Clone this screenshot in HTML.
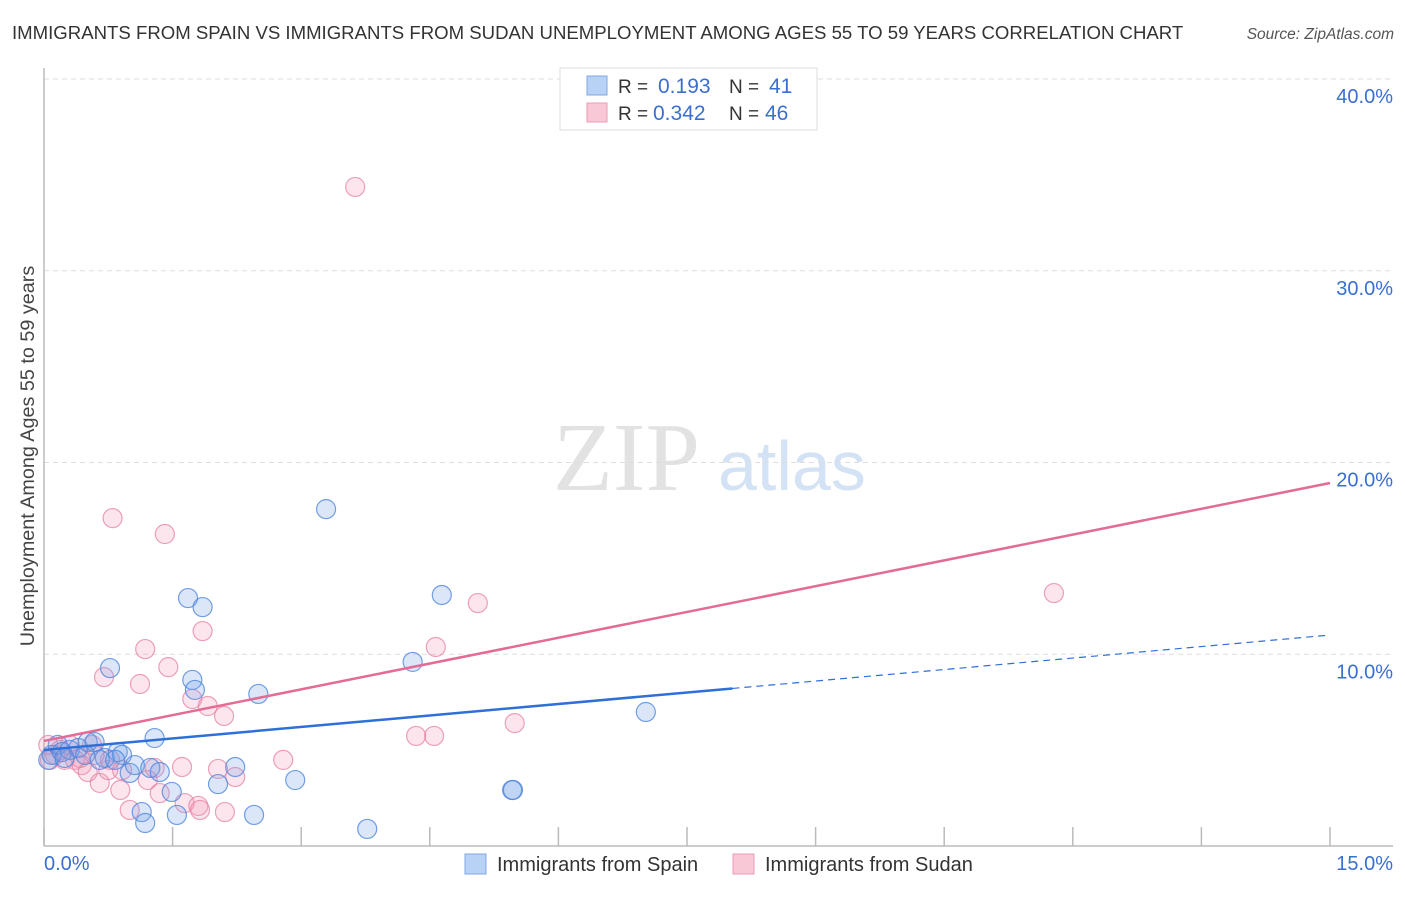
<!DOCTYPE html>
<html><head><meta charset="utf-8"><style>
body{margin:0;background:#fff;font-family:"Liberation Sans",sans-serif}
svg text{font-family:"Liberation Sans",sans-serif}
</style></head><body>
<svg id="chart" width="1406" height="892" xmlns="http://www.w3.org/2000/svg">
<text x="12" y="39" font-size="18.6" fill="#333">IMMIGRANTS FROM SPAIN VS IMMIGRANTS FROM SUDAN UNEMPLOYMENT AMONG AGES 55 TO 59 YEARS CORRELATION CHART</text>
<text x="1394" y="39" font-size="15.5" fill="#555" font-style="italic" text-anchor="end">Source: ZipAtlas.com</text>
<text transform="translate(34,456) rotate(-90)" font-size="19.8" fill="#444" text-anchor="middle">Unemployment Among Ages 55 to 59 years</text>
<g>
<text x="553" y="490" font-size="98" fill="#e2e2e2" style="font-family:'Liberation Serif',serif">ZIP</text>
<text x="718" y="490" font-size="70" fill="#d4e2f5">atlas</text>
</g>
<g id="grid"></g>
<g id="axes"></g>
<g id="marks"></g>
<g>
<rect x="560" y="68" width="257" height="62" fill="#fff" stroke="#ddd"/>
<rect x="587" y="76" width="20" height="19" fill="#b8d2f5" stroke="#7fa8e4"/>
<rect x="587" y="103" width="20" height="19" fill="#f9c8d6" stroke="#eb9ab3"/>
<text x="618" y="93" font-size="19" fill="#333">R =</text><text x="658" y="93" font-size="21" fill="#3a6fd0">0.193</text>
<text x="729" y="93" font-size="19" fill="#333">N =</text><text x="769" y="93" font-size="21" fill="#3a6fd0">41</text>
<text x="618" y="120" font-size="19" fill="#333">R =</text><text x="653" y="120" font-size="21" fill="#3a6fd0">0.342</text>
<text x="729" y="120" font-size="19" fill="#333">N =</text><text x="765" y="120" font-size="21" fill="#3a6fd0">46</text>
</g>
<g>
<rect x="465" y="854" width="21" height="20" fill="#b8d2f5" stroke="#7fa8e4"/>
<text x="497" y="871" font-size="20" fill="#333">Immigrants from Spain</text>
<rect x="733" y="854" width="21" height="20" fill="#f9c8d6" stroke="#eb9ab3"/>
<text x="765" y="871" font-size="20" fill="#333">Immigrants from Sudan</text>
</g>
</svg>
<script>
const yTicks=[10,20,30,40];
const yTickLabels=["10.0%","20.0%","30.0%","40.0%"];
const xTickValues=[0,1.5,3,4.5,6,7.5,9,10.5,12,13.5,15];
const spainX=[0.05,0.09,0.16,0.21,0.30,0.40,0.51,0.59,0.48,0.71,0.77,0.86,0.91,1.00,1.06,1.14,1.18,1.24,1.29,1.35,1.49,1.55,1.68,1.73,1.76,1.85,2.03,2.23,2.45,2.50,2.93,3.29,3.77,4.30,4.64,5.46,5.47,7.02,0.65,0.83,0.24];
const spainY=[4.49,4.75,5.27,4.90,5.01,5.11,5.42,5.42,4.75,4.59,9.28,4.90,4.75,3.81,4.22,1.77,1.20,4.07,5.63,3.86,2.82,1.62,12.93,8.66,8.14,12.46,3.23,4.12,1.62,7.93,3.44,17.57,0.89,9.60,13.09,2.92,2.92,6.99,4.49,4.49,4.59];
const sudanX=[3.63,0.80,1.41,5.06,11.78,1.85,1.18,1.45,0.70,1.12,1.73,1.91,2.10,4.57,5.49,4.34,4.55,2.79,0.05,0.13,0.19,0.30,0.36,0.44,0.51,0.56,0.65,0.75,0.91,0.89,1.00,1.21,1.29,1.35,1.61,1.64,1.80,1.82,2.03,2.11,2.23,0.77,0.24,0.42,0.59,0.07];
const sudanY=[34.37,17.10,16.27,12.67,13.19,11.21,10.27,9.33,8.81,8.45,7.67,7.30,6.78,10.38,6.41,5.74,5.74,4.49,5.27,4.75,5.01,5.27,4.49,4.22,3.86,5.27,3.29,3.96,3.96,2.92,1.88,3.44,4.07,2.76,4.12,2.24,2.09,1.88,4.02,1.77,3.60,4.49,4.49,4.59,4.75,4.49];
const spainTrend=[5.01,11.0];
const spainSolidEnd=8.03;
const sudanTrend=[5.48,18.93];

const NS="http://www.w3.org/2000/svg";
const X0=44,X1=1330,Y0=846,YTOP=79;
const sx=v=>X0+(v/15)*(X1-X0);
const sy=v=>Y0-(v/40)*(Y0-YTOP);
function mk(tag,attrs,parent){const e=document.createElementNS(NS,tag);for(const k in attrs)e.setAttribute(k,attrs[k]);parent.appendChild(e);return e;}
const grid=document.getElementById('grid'),axes=document.getElementById('axes'),marks=document.getElementById('marks');
yTicks.forEach((t,i)=>{
 const l=mk('line',{x1:X0,x2:1393,y1:sy(t),y2:sy(t),stroke:'#ddd','stroke-dasharray':'5,4'},grid);
 
 
 const tx=mk('text',{x:1393,y:sy(t)+24,'font-size':20,fill:'#3a6fd0','text-anchor':'end'},axes);
 tx.textContent=yTickLabels[i];
 
 
});
const ya=mk('line',{x1:X0,x2:X0,y1:68,y2:Y0,stroke:'#bbb','stroke-width':1.5},axes);


const xa=mk('line',{x1:X0,x2:1393,y1:Y0,y2:Y0,stroke:'#bbb','stroke-width':1.5},axes);


xTickValues.forEach(v=>{
 const t=mk('line',{x1:sx(v),x2:sx(v),y1:827,y2:Y0,stroke:'#bbb','stroke-width':1.5},axes);
 
 
});
const xl0=mk('text',{x:44,y:870,'font-size':20,fill:'#3a6fd0'},axes);xl0.textContent='0.0%';


const xl1=mk('text',{x:1393,y:870,'font-size':20,fill:'#3a6fd0','text-anchor':'end'},axes);xl1.textContent='15.0%';


function pts(xs,ys,fill,stroke,name){xs.forEach((x,i)=>{
 const c=mk('circle',{cx:sx(x),cy:sy(ys[i]),r:9.5,fill:fill,stroke:stroke,'stroke-width':1.2},marks);
 
 
});}
pts(sudanX,sudanY,'rgba(242,150,178,0.25)','rgba(230,130,165,0.75)','sudan-point');
pts(spainX,spainY,'rgba(110,160,232,0.25)','rgba(80,135,220,0.8)','spain-point');
const pl=mk('line',{x1:sx(0),y1:sy(sudanTrend[0]),x2:sx(15),y2:sy(sudanTrend[1]),stroke:'#e46b95','stroke-width':2.5},marks);


const bEnd=spainTrend[0]+(spainTrend[1]-spainTrend[0])*spainSolidEnd/15;
const bl=mk('line',{x1:sx(0),y1:sy(spainTrend[0]),x2:sx(spainSolidEnd),y2:sy(bEnd),stroke:'#2e6fd8','stroke-width':2.5},marks);


const bd=mk('line',{x1:sx(spainSolidEnd),y1:sy(bEnd),x2:sx(15),y2:sy(spainTrend[1]),stroke:'#2e6fd8','stroke-width':1.2,'stroke-dasharray':'7,5'},marks);


</script>
</body></html>
